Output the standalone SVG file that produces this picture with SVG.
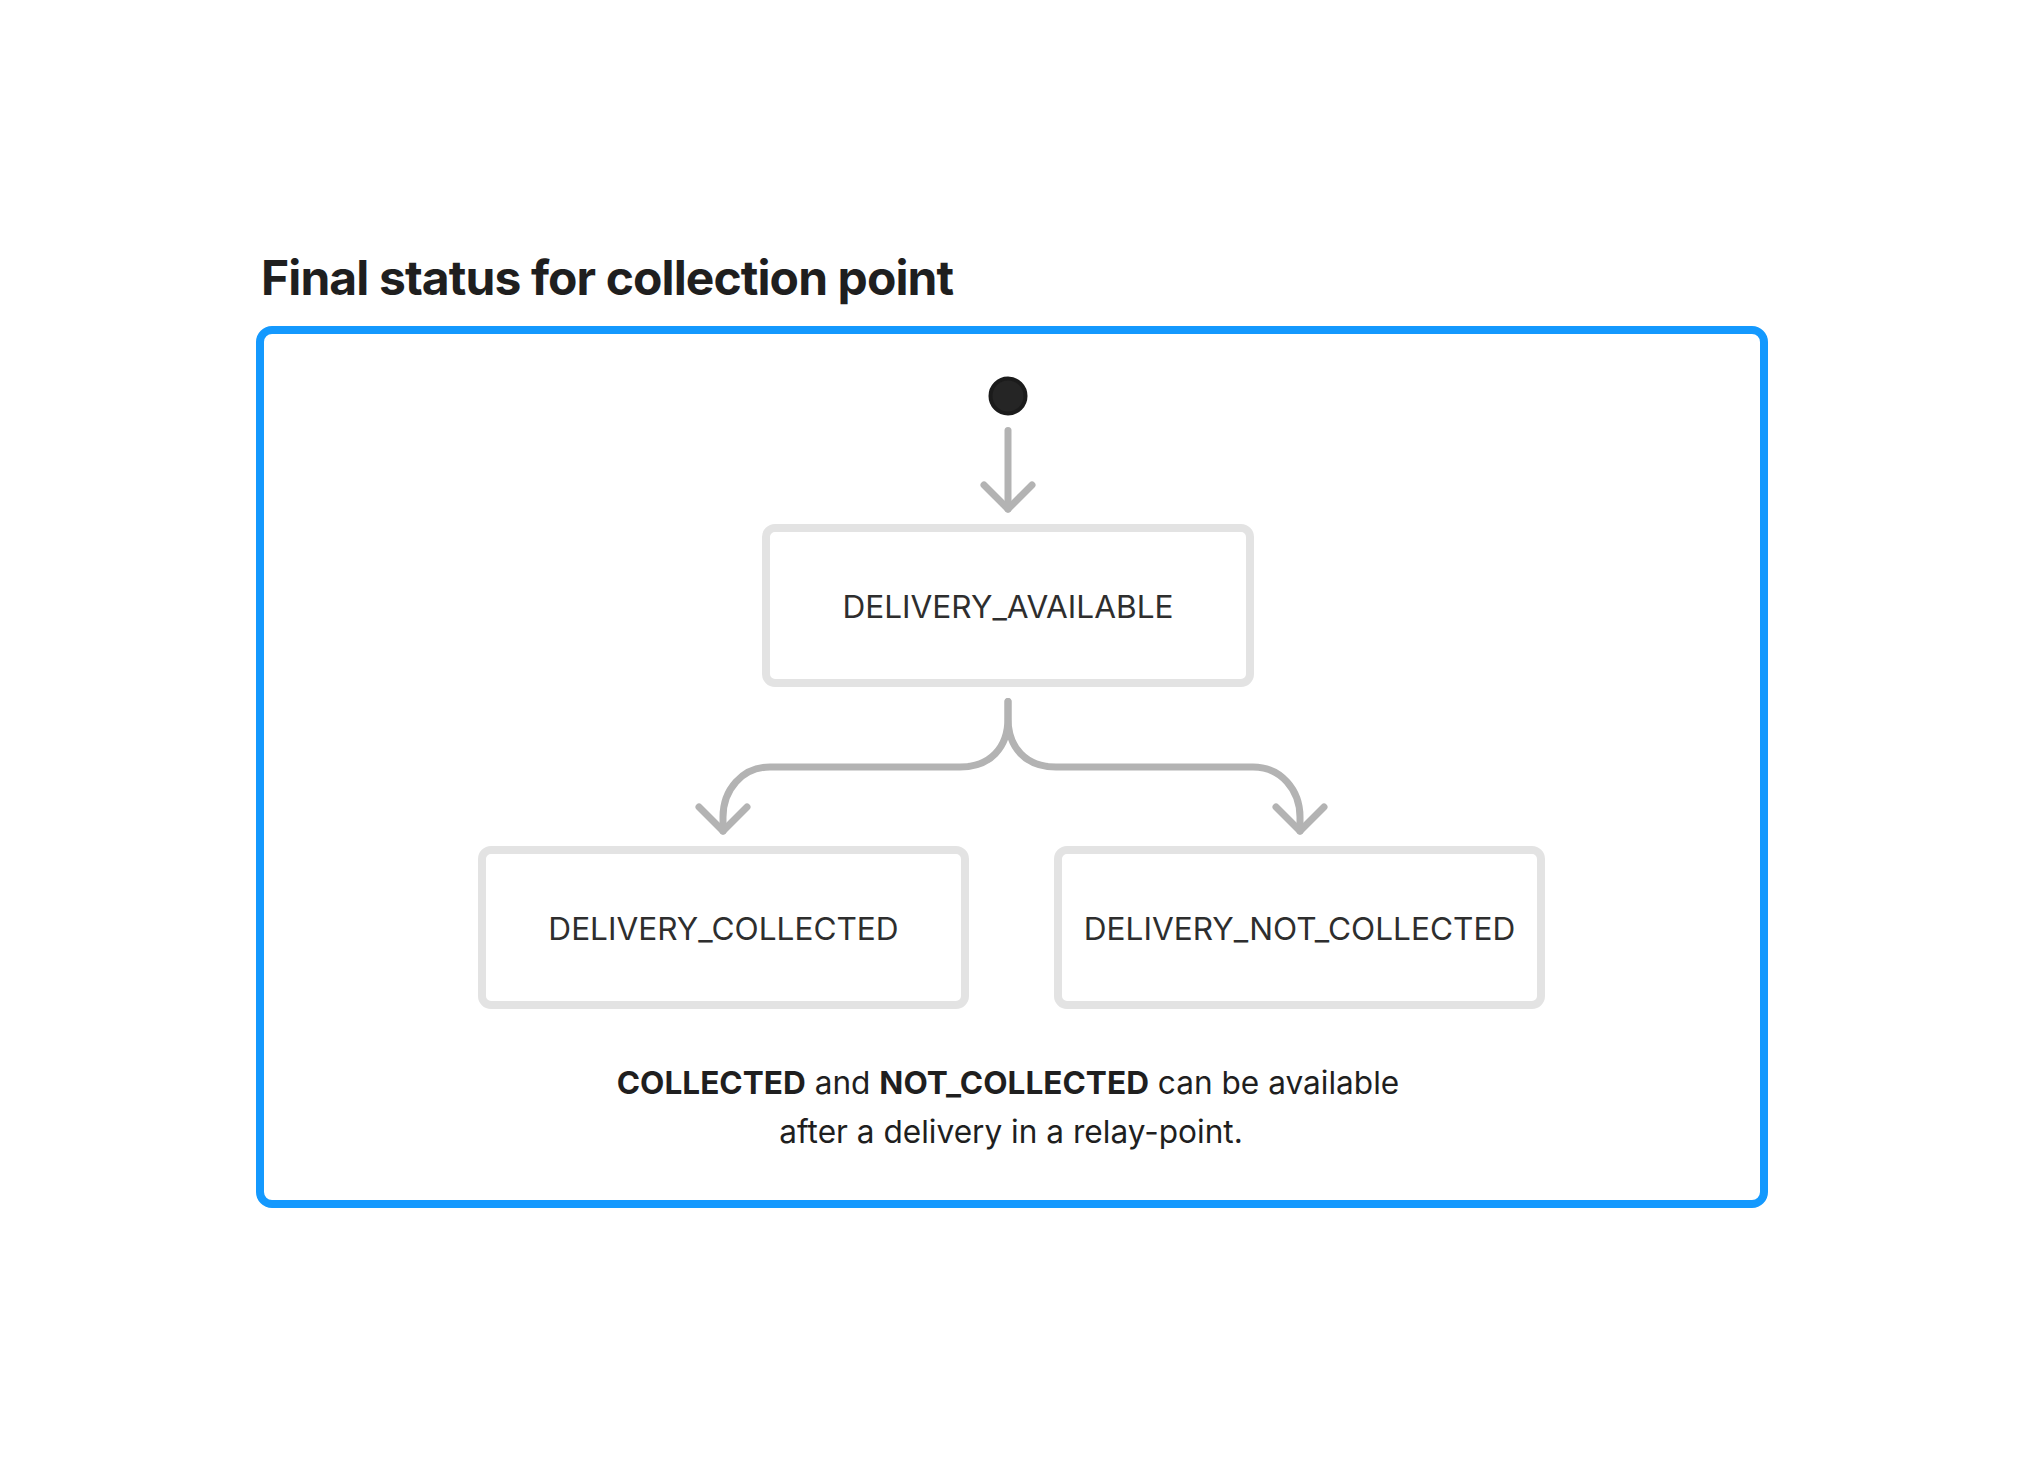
<svg xmlns="http://www.w3.org/2000/svg" width="2024" height="1464" viewBox="0 0 2024 1464">
  <style>
    .title { font-family: Inter, "Liberation Sans", sans-serif; font-weight: 700; font-size: 48px; fill: #1f1f1f; letter-spacing: -0.9px; }
    .frame { fill: none; stroke: #1499fe; stroke-width: 8; }
    .state { fill: #ffffff; stroke: #e3e3e3; stroke-width: 8; }
    .label { font-family: Inter, "Liberation Sans", sans-serif; font-size: 31.6px; fill: #2e2e2e; text-anchor: middle; }
    .note { font-family: Inter, "Liberation Sans", sans-serif; font-size: 31.6px; fill: #1f1f1f; text-anchor: middle; }
    .note .b { font-weight: 700; }
    .conn { fill: none; stroke: #b3b3b3; stroke-width: 7; stroke-linecap: round; stroke-linejoin: round; }
  </style>
  <defs>
    <marker id="chev" viewBox="-30 -30 60 60" markerWidth="60" markerHeight="60" markerUnits="userSpaceOnUse" refX="0" refY="0" orient="auto" overflow="visible">
      <path d="M-24,-24 L0,0 L-24,24" fill="none" stroke="#b3b3b3" stroke-width="7" stroke-linecap="round" stroke-linejoin="round"/>
    </marker>
  </defs>
  <rect width="2024" height="1464" fill="#ffffff"/>

  <text id="title" class="title" x="261" y="295">Final status for collection point</text>

  <rect id="frame" class="frame" x="260" y="330" width="1504" height="874" rx="12" ry="12"/>

  <g id="start">
    <circle cx="1008" cy="396" r="17.5" fill="#252525" stroke="#1b1b1b" stroke-width="4"/>
  </g>

  <g id="connectors">
    <path class="conn" d="M1008,430.5 V509" marker-end="url(#chev)"/>
    <path class="conn" d="M1008,701.5 V718 C1008,748 990,767 960,767 H770 C742,767 723,790 723,817 V831" marker-end="url(#chev)"/>
    <path class="conn" d="M1008,701.5 V718 C1008,748 1026,767 1056,767 H1253 C1281,767 1300,790 1300,817 V831" marker-end="url(#chev)"/>
  </g>

  <g id="delivery_available">
    <rect class="state" x="766" y="528" width="484" height="155" rx="9" ry="9"/>
    <text class="label" x="1008" y="618">DELIVERY_AVAILABLE</text>
  </g>

  <g id="delivery_collected">
    <rect class="state" x="482" y="850" width="483" height="155" rx="9" ry="9"/>
    <text class="label" x="723.5" y="940">DELIVERY_COLLECTED</text>
  </g>

  <g id="delivery_not_collected">
    <rect class="state" x="1058" y="850" width="483" height="155" rx="9" ry="9"/>
    <text class="label" x="1299.5" y="940">DELIVERY_NOT_COLLECTED</text>
  </g>

  <g id="note">
    <text class="note" x="1008" y="1094"><tspan class="b">COLLECTED</tspan> and <tspan class="b">NOT_COLLECTED</tspan> can be available</text>
    <text class="note" x="1011" y="1143">after a delivery in a relay-point.</text>
  </g>
</svg>
